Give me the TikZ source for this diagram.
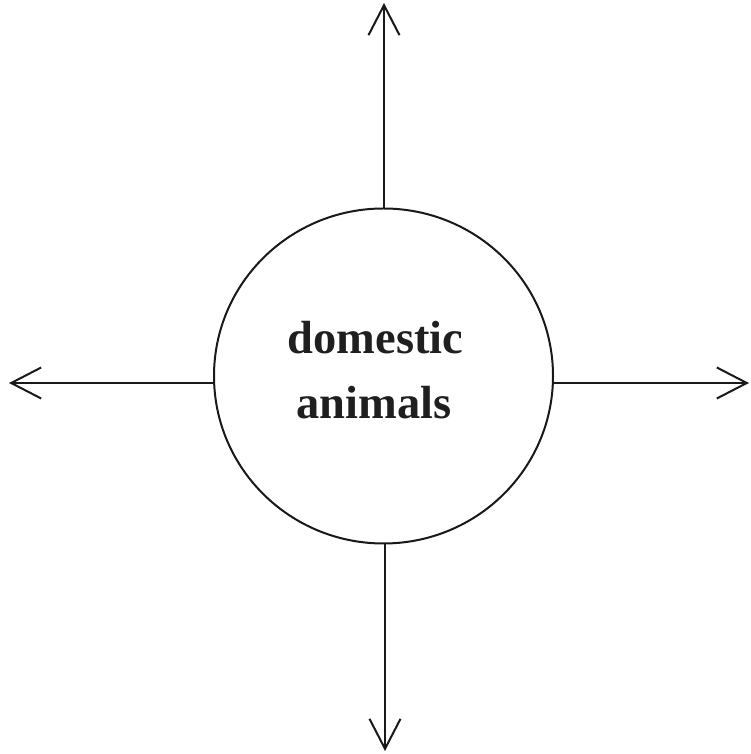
\documentclass[tikz,border=0pt]{standalone}
\usepackage{fontspec}
\setmainfont{Liberation Serif}
\usetikzlibrary{arrows.meta}
\begin{document}
\begin{tikzpicture}[x=1pt,y=1pt,
  ring/.style={draw=black!90, line width=2pt, ellipse shape},
  arr/.style={draw=black!90, line width=2pt, -{Straight Barb[length=30pt,width=31pt,line width=2pt]}},
  lbl/.style={font=\fontsize{46.5}{65}\selectfont\bfseries, text=black!88, anchor=base, inner sep=0pt}]
\useasboundingbox (0,0) rectangle (751,754);
\draw[draw=black!90, line width=2pt] (383.5,378) ellipse [x radius=169.5, y radius=167.5];
\coordinate (c) at (383.5,378);
\coordinate (ct) at (384,545);
\coordinate (cb) at (385,211);
\coordinate (cl) at (214.5,371);
\coordinate (cr) at (552.5,371);
\coordinate (et) at (384,751);
\coordinate (eb) at (385,3);
\coordinate (el) at (9,371);
\coordinate (er) at (749,371);
\draw[arr] (ct) -- (et);
\draw[arr] (cb) -- (eb);
\draw[arr] (cl) -- (el);
\draw[arr] (cr) -- (er);
\node[lbl] (t1) at (375.5,400) {domestic};
\node[lbl] (t2) at (374,335) {animals};
\end{tikzpicture}
\end{document}
